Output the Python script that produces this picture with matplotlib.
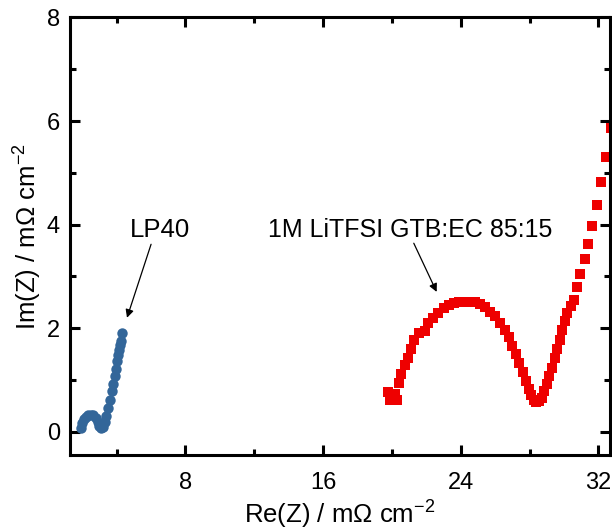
import matplotlib
matplotlib.use("Agg")
import matplotlib.pyplot as plt

plt.rcParams['font.family'] = ['Liberation Sans', 'DejaVu Sans']
plt.rcParams['mathtext.fontset'] = 'custom'
plt.rcParams['mathtext.rm'] = 'Liberation Sans'
plt.rcParams['mathtext.it'] = 'Liberation Sans:italic'

# LP40 (blue circles)
lp40_re = [1.95, 2.0, 2.1, 2.2, 2.35, 2.5, 2.65, 2.8, 2.9, 3.0, 3.1, 3.2, 3.3,
           3.4, 3.5, 3.6, 3.7, 3.8, 3.88, 3.95, 4.02, 4.08, 4.13, 4.18, 4.23, 4.31]
lp40_im = [0.08, 0.16, 0.24, 0.29, 0.32, 0.33, 0.32, 0.26, 0.18, 0.11, 0.08, 0.1, 0.18,
           0.3, 0.45, 0.62, 0.78, 0.93, 1.08, 1.22, 1.36, 1.48, 1.58, 1.67, 1.76, 1.9]

# 1M LiTFSI GTB:EC 85:15 (red squares)
gtb_re = [19.9, 19.75, 20.3, 20.2, 20.4, 20.55, 20.75, 20.95, 21.1, 21.3,
          21.6, 21.9, 22.1, 22.4, 22.7, 23.0, 23.3, 23.6, 23.9, 24.2,
          24.5, 24.8, 25.1, 25.4, 25.7, 26.0, 26.3, 26.55, 26.8, 27.0,
          27.2, 27.4, 27.6, 27.8, 27.95, 28.1, 28.25, 28.4, 28.55, 28.7,
          28.85, 29.0, 29.15, 29.3, 29.45, 29.6, 29.75, 29.9, 30.05, 30.2,
          30.38, 30.58, 30.78, 30.95, 31.2, 31.39, 31.65, 31.9, 32.17, 32.46,
          32.72]
gtb_im = [0.62, 0.77, 0.62, 0.72, 0.95, 1.12, 1.28, 1.42, 1.6, 1.78,
          1.9, 1.95, 2.1, 2.2, 2.3, 2.38, 2.44, 2.48, 2.5, 2.51,
          2.51, 2.5, 2.47, 2.4, 2.32, 2.23, 2.1, 1.96, 1.82, 1.65,
          1.5, 1.33, 1.15, 0.97, 0.82, 0.7, 0.62, 0.58, 0.6, 0.66,
          0.78, 0.92, 1.07, 1.24, 1.42, 1.6, 1.78, 1.96, 2.14, 2.3,
          2.42, 2.55, 2.8, 3.05, 3.33, 3.63, 3.98, 4.38, 4.83, 5.31,
          5.86]

fig = plt.figure(figsize=(6.12, 5.31), dpi=100)
ax = fig.add_axes([0.1136, 0.1431, 0.883, 0.824])

ax.plot(lp40_re, lp40_im, 'o', color='#336699', markersize=7.5, markeredgewidth=0)
ax.plot(gtb_re, gtb_im, 's', color='#ee0000', markersize=7, markeredgewidth=0)

ax.set_xlim(1.26, 32.67)
ax.set_ylim(-0.45, 8)
ax.set_xticks([8, 16, 24, 32])
ax.set_xticks([4, 12, 20, 28], minor=True)
ax.set_yticks([0, 2, 4, 6, 8])
ax.set_yticks([1, 3, 5, 7], minor=True)

for s in ax.spines.values():
    s.set_linewidth(2.2)
ax.tick_params(which='both', direction='in', top=True, right=True, width=2.2,
               labelsize=17)
ax.tick_params(which='major', length=7)
ax.tick_params(axis='x', which='major', pad=12)
ax.tick_params(axis='y', which='major', pad=7)
ax.tick_params(which='minor', length=4)

ax.set_xlabel('Re(Z) / m\u03a9 cm$^{-2}$', fontsize=18.5, labelpad=4)
ax.set_ylabel('Im(Z) / m\u03a9 cm$^{-2}$', fontsize=18.5, labelpad=2)

arrow = dict(arrowstyle='-|>', color='black', lw=0.9, mutation_scale=12,
             shrinkA=0, shrinkB=0)
ax.text(6.52, 3.9, 'LP40', fontsize=18.5, ha='center', va='center')
ax.annotate('', xy=(4.6, 2.2), xytext=(6.0, 3.62), arrowprops=arrow)
ax.text(21.04, 3.9, '1M LiTFSI GTB:EC 85:15', fontsize=18, ha='center', va='center')
ax.annotate('', xy=(22.6, 2.7), xytext=(21.27, 3.64), arrowprops=arrow)

fig.savefig('out.png', dpi=100)
